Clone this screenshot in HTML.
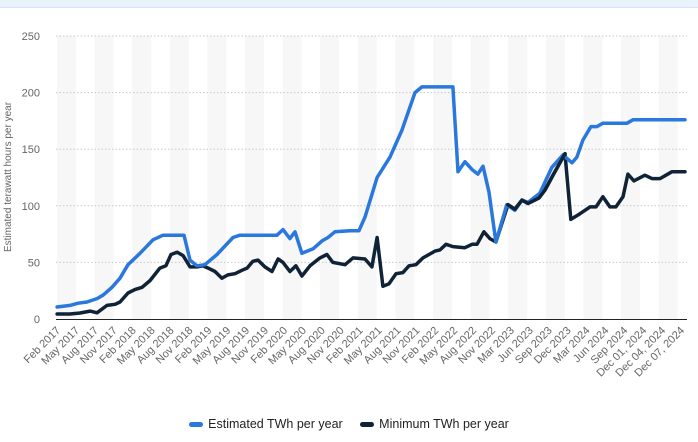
<!DOCTYPE html>
<html><head><meta charset="utf-8"><style>
body{margin:0;background:#fff;width:698px;height:442px;overflow:hidden;font-family:"Liberation Sans",sans-serif}
</style></head><body>
<div style="position:absolute;left:0;top:0;width:698px;height:7px;background:#eaf2fc;border-bottom:1px solid #d4e3f7"></div>
<svg id="chart" width="698" height="442" style="position:absolute;left:0;top:0"></svg>
<script>
const yTicks=[0,50,100,150,200,250];
const categories=["Feb 2017","May 2017","Aug 2017","Nov 2017","Feb 2018","May 2018","Aug 2018","Nov 2018","Feb 2019","May 2019","Aug 2019","Nov 2019","Feb 2020","May 2020","Aug 2020","Nov 2020","Feb 2021","May 2021","Aug 2021","Nov 2021","Feb 2022","May 2022","Aug 2022","Nov 2022","Mar 2023","Jun 2023","Sep 2023","Dec 2023","Mar 2024","Jun 2024","Sep 2024","Dec 01, 2024","Dec 04, 2024","Dec 07, 2024"];
const estIdx=[-0.13,0.45,0.81,1.21,1.66,1.93,2.33,2.69,3.05,3.59,4.17,4.62,5.56,5.83,6.14,6.5,7.04,7.76,8.07,9.73,10,10.31,10.54,10.85,11.35,11.75,12.02,12.33,13,13.41,13.68,14.22,14.8,15.34,15.92,16.23,17.62,17.85,18.16,18.48,18.74,18.97,19.24,19.55,20.04,20.4,20.72,20.99,21.52,22.06,22.56,22.96,23.18,23.45,23.81,24.08,24.35,25.43,25.7,28.03];
const estVals=[10.6,12,14,15,18,21,28,36,48,58,70,74,74,52,47,48,57,72,74,74,79,71,77,58,62,69,72,77,78,78,90,125,143,167,200,205,205,130,139,132,128,135,112,68,101,96,105,103,111,134,145,138,143,158,170,170,173,173,176,176];
const minIdx=[-0.13,0.45,0.9,1.35,1.66,2.11,2.47,2.69,3.05,3.36,3.68,4.04,4.48,4.75,4.98,5.25,5.52,5.83,6.14,6.41,6.64,6.95,7.26,7.53,7.85,8.16,8.39,8.65,8.88,9.19,9.51,9.78,10,10.31,10.58,10.85,11.21,11.66,11.97,12.24,12.78,13.14,13.68,13.99,14.22,14.48,14.75,15.07,15.38,15.65,15.96,16.28,16.82,17.04,17.31,17.62,18.16,18.48,18.7,19.01,19.28,19.55,20.09,20.4,20.72,20.99,21.48,21.75,22.11,22.65,22.91,23.32,23.77,24.04,24.35,24.66,24.93,25.25,25.47,25.74,26.23,26.55,26.91,27.44,28.03];
const minVals=[4.4,4.4,5.3,7,5.5,12,13,15,23,26,28,34,45,47,57,59,56,46,46,47,45,42,36,39,40,43,45,51,52,46,42,53,50,42,47,38,47,54,57,50,48,54,53,46,72,29,31,40,41,47,48,54,60,61,66,64,63,66,66,77,71,68,101,97,105,102,107,114,127,146,88,93,99,99,108,99,99,108,128,122,127,124,124,130,130];
</script>
<script>
const NS="http://www.w3.org/2000/svg";
const svg=document.getElementById('chart');
const X0=60,X1=684,Y0=319,Y1=36;
const DATA_SPAN=28.03; // data index range end maps to X1-ish
function xd(i){return X0+i*(685-X0)/DATA_SPAN;}
function xl(k){return X0+k*(X1-X0)/(categories.length-1);}
function ys(v){return Y0-(v/250)*(Y0-Y1);}
function mk(t,a){const e=document.createElementNS(NS,t);for(const k in a)e.setAttribute(k,a[k]);svg.appendChild(e);return e;}
for(let x=57;x<687;x+=37.6){
const r=mk('rect',{x:x,y:Y1,width:Math.min(19,687-x),height:Y0-Y1,fill:'#f7f7f7'});


}
yTicks.forEach(t=>{
if(t>0){const g=mk('line',{x1:56,x2:687,y1:ys(t),y2:ys(t),stroke:'#c8c8c8','stroke-dasharray':'1.5,2','stroke-width':1});

}
const tx=mk('text',{x:40,y:ys(t)+4,'text-anchor':'end','font-size':11,fill:'#666'});tx.textContent=t;


});
const ax=mk('line',{x1:56,x2:687,y1:Y0+0.5,y2:Y0+0.5,stroke:'#222','stroke-width':1});


const yt=mk('text',{x:0,y:0,transform:'translate(11,177) rotate(-90)','text-anchor':'middle','font-size':10,fill:'#666'});
yt.textContent='Estimated terawatt hours per year';


categories.forEach((c,k)=>{
const x=xl(k)+1,y=331;
const t=mk('text',{x:x,y:y,transform:`rotate(-45 ${x} ${y})`,'text-anchor':'end','font-size':11,fill:'#666'});
t.textContent=c;


});
function line(idx,vals,color,name){
const d=idx.map((i,k)=>(k?'L':'M')+xd(i).toFixed(1)+','+ys(vals[k]).toFixed(1)).join('');
const p=mk('path',{d:d,fill:'none',stroke:color,'stroke-width':3.5,'stroke-linejoin':'round','stroke-linecap':'round'});


}
line(minIdx,minVals,'#0f2236','series-minimum-line');
line(estIdx,estVals,'#2a77dd','series-estimated-line');
line(minIdx.slice(62,70),minVals.slice(62,70),'#0f2236','series-minimum-overlap');
</script>
<div style="position:absolute;left:0;top:417px;width:698px;text-align:center;font-size:12.5px;color:#222">
<span style="margin-right:14px"><span style="display:inline-block;width:14px;height:5px;background:#2a77dd;border-radius:3px;vertical-align:middle;margin-right:5px"></span>Estimated TWh per year</span>
<span><span style="display:inline-block;width:14px;height:5px;background:#0f2236;border-radius:3px;vertical-align:middle;margin-right:5px"></span>Minimum TWh per year</span>
</div>
</body></html>
